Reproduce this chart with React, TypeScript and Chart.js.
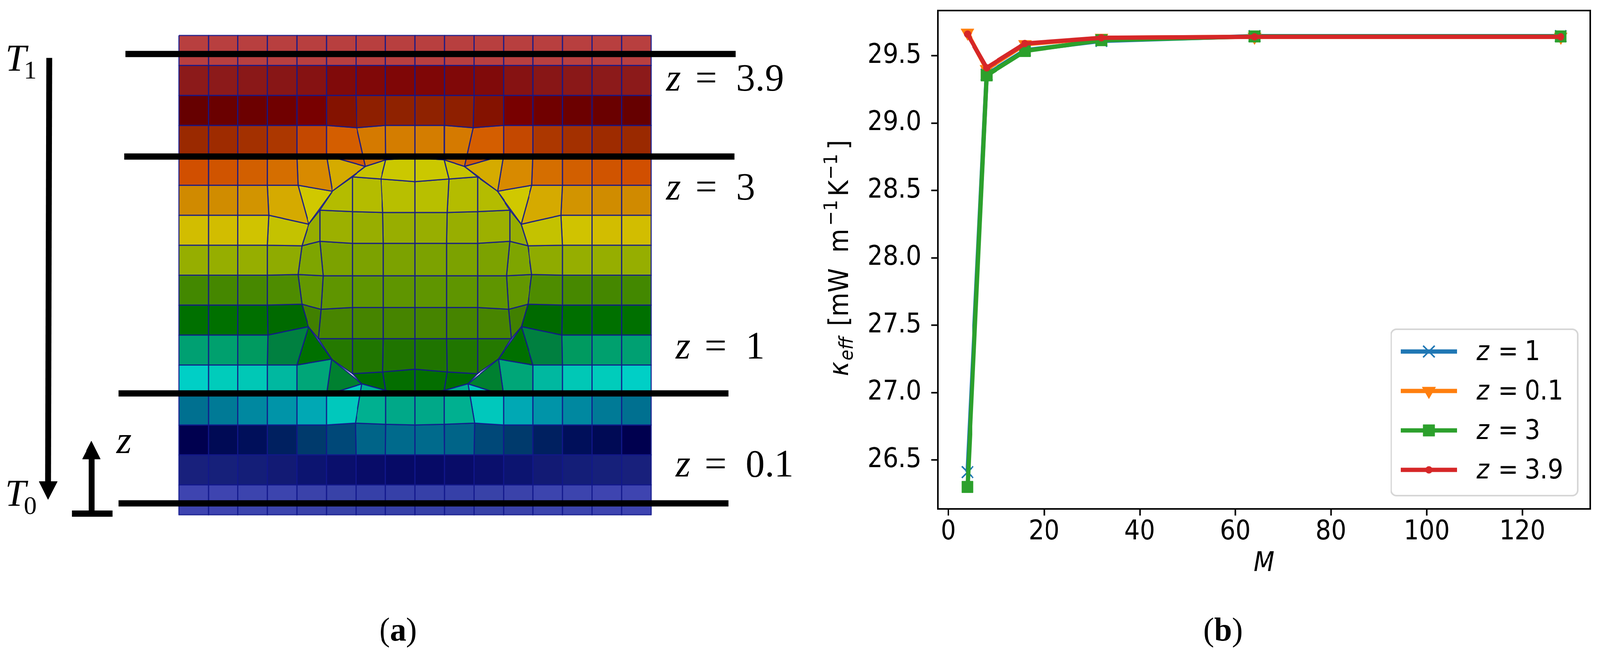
import { useEffect, useRef, useState } from 'react';
import { Chart, registerables } from 'chart.js';
import { drawPoint } from 'chart.js/helpers';

Chart.register(...registerables);

// (b) convergence curves
const mValues = [4, 8, 16, 32, 64, 128];
const kappaZ1 = [26.41, 29.36, 29.54, 29.61, 29.645, 29.645];
const kappaZ01 = [29.67, 29.4, 29.585, 29.632, 29.64, 29.64];
const kappaZ3 = [26.3, 29.354, 29.535, 29.615, 29.643, 29.643];
const kappaZ39 = [29.66, 29.41, 29.59, 29.633, 29.64, 29.64];
const seriesLabels = ['1', '0.1', '3', '3.9'];

// (a) mesh: the left half of the block, mirrored about u = 8. Units are cell widths.
const outerCells = [
  ['#b83f3f', '#b83f3f', '#b83f3f', '#b83f3f', '#b83f3f', '#b83f3f', '#b83f3f', '#b83f3f'],
  ['#8c1a1a', '#8c1a1a', '#8a1818', '#881616', '#861212', '#800a0a', '#800808', '#7f0606'],
  ['#660000', '#6a0000', '#6c0000', '#700000', '#780000', '#841200', '#8e1f00', '#8f2200'],
  ['#9a2900', '#9e2b00', '#a33000', '#ac3700', '#c44800', '#d45e00', '#d57a00', '#d47d00'],
  ['#d14f00', '#d05400', '#d25f00', '#d56e00', '#d88a00', '#d5ab00', null, null],
  ['#d08a00', '#d08c00', '#d29400', '#d5aa00', '#d0c800', null, null, null],
  ['#d2bd00', '#d2bd00', '#d0c300', '#c4c200', null, null, null, null],
  ['#96ae00', '#96ae00', '#96ae00', '#8fab00', null, null, null, null],
  ['#438800', '#458700', '#478800', '#4e8c00', null, null, null, null],
  ['#007000', '#007000', '#006f00', '#006a00', null, null, null, null],
  ['#00a072', '#00a06e', '#009a60', '#008040', '#007000', null, null, null],
  ['#00cfc6', '#00ccbb', '#00c8b6', '#00b8a0', '#00a678', '#008030', null, null],
  ['#007090', '#007a96', '#0088a0', '#0094a8', '#00a8b4', '#00c8bc', '#00b090', '#00a888'],
  ['#00004f', '#000a55', '#000f5a', '#002060', '#003a6c', '#004878', '#006488', '#006a8c'],
  ['#18207c', '#16207a', '#141e78', '#121a74', '#0c1470', '#0a0f6c', '#080c68', '#060a66'],
  ['#3e44b0', '#3e44b0', '#3c44ae', '#3c44ae', '#3a42aa', '#3842a8', '#3640a8', '#3640a8'],
];

// outer grid nodes pulled onto the sphere: [column, row from top, u, v]
const outerShifted = [
  [6, 3, 6.03, 12.92],
  [6, 4, 6.32, 11.63], [7, 4, 7.01, 11.85], [8, 4, 8, 11.92],
  [4, 5, 4.04, 11], [5, 5, 5.2, 10.8], [6, 5, 5.2, 10.8],
  [3, 6, 3.05, 10], [4, 6, 4.4, 9.7], [5, 6, 4.4, 9.7],
  [4, 7, 4.17, 8.98], [4, 8, 4.04, 8.02], [4, 9, 4.17, 7.03],
  [3, 10, 3.02, 6], [4, 10, 4.39, 6.28], [5, 10, 4.39, 6.28],
  [4, 11, 4, 5], [5, 11, 5.17, 5.2], [6, 11, 5.17, 5.2],
  [5, 12, 5, 4], [6, 12, 6.2, 4.37], [7, 12, 7.01, 4.15], [8, 12, 8, 4.02],
  [6, 13, 5.98, 3.06], [7, 13, 7.01, 3.02],
];

const innerCells = [
  [null, null, '#c8c400', '#cbc800'],
  [null, '#b4bc00', '#b4bc00', '#b8bf00'],
  ['#96ad00', '#9cb000', '#98ae00', '#98ae00'],
  ['#7ea500', '#7ca200', '#7ca200', '#7ca200'],
  ['#639700', '#5f9500', '#5f9500', '#5f9500'],
  ['#418000', '#488500', '#468400', '#468400'],
  [null, '#257900', '#207600', '#1f7400'],
  [null, null, '#006c00', '#046e00'],
];

const innerU = [
  [null, null, 6.32, 7.01, 8],
  [null, 5.2, 5.88, 6.85, 8],
  [4.4, 4.78, 5.88, 6.91, 8],
  [4.17, 4.78, 5.88, 6.93, 8],
  [4.04, 4.89, 5.88, 6.93, 8],
  [4.17, 4.82, 5.88, 6.93, 8],
  [4.39, 4.73, 5.88, 6.93, 8],
  [null, 5.17, 5.88, 6.91, 8],
  [null, null, 6.2, 7.01, 8],
];

const innerV = [
  [null, null, 11.63, 11.85, 11.92],
  [null, 10.8, 11.28, 11.21, 11.12],
  [9.7, 10.17, 10.12, 10.09, 10.09],
  [8.98, 9.13, 9.06, 9.06, 9.06],
  [8.02, 7.98, 7.98, 7.98, 7.98],
  [7.03, 6.86, 6.92, 6.92, 6.92],
  [6.28, 5.88, 5.88, 5.88, 5.88],
  [null, 5.2, 4.71, 4.77, 4.86],
  [null, null, 4.37, 4.15, 4.02],
];

// measurement planes and the two arrows, in the same cell units
const planeLevels = [15.38, 11.96, 4.05, 0.38];
const planeStarts = [-1.81, -1.85, -2.04, -2.04];
const planeEnds = [18.87, 18.83, 18.63, 18.63];

const PAGE_WIDTH = 4161;
const MESH_LINE = 'rgba(18,24,140,0.85)';
const SANS = '"DejaVu Sans Condensed", "DejaVu Sans"';
const SERIF = '"Liberation Serif"';

const outerNode = (c: number, t: number) => {
  if (c > 8) {
    const p = outerNode(16 - c, t);
    return { x: 16 - p.x, y: p.y };
  }
  const hit = outerShifted.find((n) => n[0] === c && n[1] === t);
  return hit ? { x: hit[2], y: hit[3] } : { x: c, y: 16 - t };
};

const innerNode = (i: number, j: number) => {
  if (i > 4) {
    const p = innerNode(8 - i, j);
    return { x: 16 - p.x, y: p.y };
  }
  return { x: innerU[j][i] as number, y: innerV[j][i] as number };
};

const polygon = (points: { x: number; y: number }[], color: string, line: string, width: number) => ({
  data: [...points, points[0]],
  showLine: true,
  fill: 'shape',
  backgroundColor: color,
  borderColor: line,
  borderWidth: width,
  borderJoinStyle: 'round',
  pointRadius: 0,
  order: 1,
});

const stroke = (points: { x: number; y: number }[], width: number) => ({
  data: points,
  showLine: true,
  fill: false,
  borderColor: '#000',
  borderWidth: width,
  borderCapStyle: 'butt',
  pointRadius: 0,
  order: 0,
});

const meshDatasets = () => {
  const sets: any[] = [];
  outerCells.forEach((row, t) => {
    for (let c = 0; c < 16; c++) {
      const color = row[c < 8 ? c : 15 - c];
      if (!color) continue;
      const corners = [outerNode(c, t), outerNode(c + 1, t), outerNode(c + 1, t + 1), outerNode(c, t + 1)];
      sets.push(polygon(corners, color, MESH_LINE, 3));
    }
  });
  innerCells.forEach((row, j) => {
    for (let i = 0; i < 8; i++) {
      const color = row[i < 4 ? i : 7 - i];
      if (!color) continue;
      const corners = [innerNode(i, j), innerNode(i + 1, j), innerNode(i + 1, j + 1), innerNode(i, j + 1)];
      sets.push(polygon(corners, color, MESH_LINE, 3));
    }
  });
  planeLevels.forEach((v, k) => {
    sets.push(stroke([{ x: planeStarts[k], y: v }, { x: planeEnds[k], y: v }], 16));
  });
  // T1 -> T0 arrow
  sets.push(stroke([{ x: -4.39, y: 15.25 }, { x: -4.43, y: 1.09 }], 15));
  sets.push({ ...polygon([{ x: -4.73, y: 1.11 }, { x: -4.12, y: 1.11 }, { x: -4.43, y: 0.51 }], '#000', '#000', 1), order: 0 });
  // z arrow with its foot
  sets.push(stroke([{ x: -2.95, y: 0.14 }, { x: -2.95, y: 1.86 }], 15));
  sets.push({ ...polygon([{ x: -3.27, y: 1.86 }, { x: -2.66, y: 1.86 }, { x: -2.96, y: 2.46 }], '#000', '#000', 1), order: 0 });
  sets.push(stroke([{ x: -3.62, y: 0.04 }, { x: -2.24, y: 0.04 }], 16));
  return sets;
};

const panelText = [
  { font: `italic 98px ${SERIF}`, text: 'T', u: -5.88, v: 14.82 },
  { font: `66px ${SERIF}`, text: '1', u: -5.25, v: 14.56 },
  { font: `italic 98px ${SERIF}`, text: 'T', u: -5.89, v: 0.3 },
  { font: `66px ${SERIF}`, text: '0', u: -5.25, v: 0.03 },
  { font: `italic 100px ${SERIF}`, text: 'z', u: -2.11, v: 2.06 },
];

const planeText = [
  { value: '3.9', u: 16.51, v: 14.16 },
  { value: '3', u: 16.51, v: 10.52 },
  { value: '1', u: 16.83, v: 5.22 },
  { value: '0.1', u: 16.83, v: 1.28 },
];

const drawCaption = (ctx: any, cx: number, baseline: number, letter: string) => {
  ctx.save();
  ctx.fillStyle = '#000';
  ctx.textBaseline = 'alphabetic';
  ctx.font = `84px ${SERIF}`;
  const paren = ctx.measureText('(').width;
  ctx.font = `bold 84px ${SERIF}`;
  const mid = ctx.measureText(letter).width;
  const left = cx - paren - mid / 2;
  ctx.font = `84px ${SERIF}`;
  ctx.fillText('(', left, baseline);
  ctx.fillText(')', left + paren + mid, baseline);
  ctx.font = `bold 84px ${SERIF}`;
  ctx.fillText(letter, left + paren, baseline);
  ctx.restore();
};

const annotationPlugin = {
  id: 'meshText',
  afterDatasetsDraw(chart: any) {
    const { ctx, scales } = chart;
    ctx.save();
    ctx.fillStyle = '#000';
    ctx.textBaseline = 'alphabetic';
    panelText.forEach((t) => {
      ctx.font = t.font;
      ctx.fillText(t.text, scales.x.getPixelForValue(t.u), scales.y.getPixelForValue(t.v));
    });
    planeText.forEach((t) => {
      const x = scales.x.getPixelForValue(t.u);
      const y = scales.y.getPixelForValue(t.v);
      ctx.font = `italic 100px ${SERIF}`;
      ctx.fillText('z', x, y);
      ctx.font = `100px ${SERIF}`;
      ctx.fillText('=', x + 76, y);
      ctx.fillText(t.value, x + 182, y);
    });
    ctx.restore();
    drawCaption(ctx, scales.x.getPixelForValue(7.43), scales.y.getPixelForValue(-4.2), 'a');
  },
};

// top and right spines, mathtext y label, hand-built legend and the (b) caption
const framePlugin = {
  id: 'frame',
  afterDatasetsDraw(chart: any) {
    const { ctx, chartArea: a } = chart;
    ctx.save();
    ctx.strokeStyle = '#000';
    ctx.lineWidth = 4;
    ctx.strokeRect(a.left, a.top, a.right - a.left, a.bottom - a.top);
    ctx.restore();

    // legend
    const boxLeft = a.right - 518;
    const boxRight = a.right - 33;
    const boxTop = a.bottom - 460;
    const boxBottom = a.bottom - 34;
    ctx.save();
    ctx.beginPath();
    ctx.roundRect(boxLeft, boxTop, boxRight - boxLeft, boxBottom - boxTop, 14);
    ctx.fillStyle = 'rgba(255,255,255,0.8)';
    ctx.fill();
    ctx.strokeStyle = '#d6d6d6';
    ctx.lineWidth = 4;
    ctx.stroke();
    const rowGap = 101;
    chart.data.datasets.forEach((ds: any, k: number) => {
      const y = boxTop + 57 + k * rowGap;
      ctx.strokeStyle = ds.borderColor;
      ctx.lineWidth = ds.borderWidth;
      ctx.beginPath();
      ctx.moveTo(boxLeft + 25, y);
      ctx.lineTo(boxLeft + 171, y);
      ctx.stroke();
      ctx.fillStyle = ds.pointBackgroundColor;
      ctx.strokeStyle = ds.pointBorderColor;
      ctx.lineWidth = ds.pointBorderWidth;
      drawPoint(ctx, { pointStyle: ds.pointStyle, rotation: ds.pointRotation || 0, radius: ds.pointRadius, borderWidth: ds.pointBorderWidth }, boxLeft + 98, y);
      ctx.fillStyle = '#000';
      ctx.textBaseline = 'alphabetic';
      ctx.font = `italic 70px ${SANS}`;
      ctx.fillText('z', boxLeft + 222, y + 22);
      ctx.font = `70px ${SANS}`;
      ctx.fillText('=', boxLeft + 278, y + 22);
      ctx.fillText(ds.label, boxLeft + 347, y + 22);
    });
    ctx.restore();

    // y label, read bottom to top
    const baseX = a.left - 234;
    const bottomY = (a.top + a.bottom) / 2 + 298;
    const runs = [
      { font: `italic 70px ${SANS}`, text: 'κ', d: 0, lift: 0 },
      { font: `italic 50px ${SANS}`, text: 'eff', d: 40, lift: -13 },
      { font: `70px ${SANS}`, text: '[mW', d: 128, lift: 0 },
      { font: `70px ${SANS}`, text: 'm', d: 316, lift: 0 },
      { font: `50px ${SANS}`, text: '−1', d: 385, lift: 28 },
      { font: `70px ${SANS}`, text: 'K', d: 460, lift: 0 },
      { font: `50px ${SANS}`, text: '−1', d: 503, lift: 28 },
      { font: `70px ${SANS}`, text: ']', d: 580, lift: 0 },
    ];
    ctx.save();
    ctx.translate(baseX, bottomY);
    ctx.rotate(-Math.PI / 2);
    ctx.fillStyle = '#000';
    ctx.textBaseline = 'alphabetic';
    runs.forEach((r) => {
      ctx.font = r.font;
      ctx.fillText(r.text, r.d, -r.lift);
    });
    ctx.restore();

    drawCaption(ctx, (a.left + a.right) / 2 - 107, 1640, 'b');
  },
};

export default function App() {
  const meshRef = useRef<HTMLCanvasElement>(null);
  const plotRef = useRef<HTMLCanvasElement>(null);
  // the browser window can come out narrower than the figure, so squeeze to fit it
  const [fit] = useState(() => Math.min(1, window.innerWidth / PAGE_WIDTH));

  useEffect(() => {
    const meshChart = new Chart(meshRef.current as HTMLCanvasElement, {
      type: 'scatter',
      data: { datasets: meshDatasets() },
      options: {
        animation: false,
        responsive: false,
        devicePixelRatio: 1,
        layout: { padding: 0 },
        plugins: { legend: { display: false }, tooltip: { enabled: false } },
        scales: {
          x: { display: false, min: -6.059, max: 21.954 },
          y: { display: false, min: -4.681, max: 17.184 },
        },
      },
      plugins: [annotationPlugin],
    } as any);

    const series = [
      { values: kappaZ1, color: '#1f77b4', style: 'crossRot', radius: 21, rotation: 0, border: 4, order: 3 },
      { values: kappaZ01, color: '#ff7f0e', style: 'triangle', radius: 20, rotation: 180, border: 1, order: 2 },
      { values: kappaZ3, color: '#2ca02c', style: 'rect', radius: 21, rotation: 0, border: 1, order: 1 },
      { values: kappaZ39, color: '#d62728', style: 'circle', radius: 9, rotation: 0, border: 1, order: 0 },
    ];

    const plotChart = new Chart(plotRef.current as HTMLCanvasElement, {
      type: 'line',
      data: {
        datasets: series.map((s, k) => ({
          label: seriesLabels[k],
          data: mValues.map((m, i) => ({ x: m, y: s.values[i] })),
          borderColor: s.color,
          backgroundColor: s.color,
          borderWidth: 11,
          borderJoinStyle: 'round',
          tension: 0,
          fill: false,
          pointStyle: s.style,
          pointRadius: s.radius,
          pointRotation: s.rotation,
          pointBackgroundColor: s.color,
          pointBorderColor: s.color,
          pointBorderWidth: s.border,
          order: s.order,
        })),
      },
      options: {
        animation: false,
        responsive: false,
        devicePixelRatio: 1,
        layout: { padding: { left: 0, right: 21, top: 27, bottom: 191 } },
        plugins: { legend: { display: false }, tooltip: { enabled: false } },
        scales: {
          x: {
            type: 'linear',
            min: -2.2,
            max: 134.2,
            afterFit: (scale: any) => {
              // plot box is pinned to the reference, so tick labels must not push it in
              scale.height = 183;
              scale.paddingLeft = 0;
              scale.paddingRight = 0;
            },
            border: { display: true, color: '#000', width: 4 },
            grid: { drawOnChartArea: false, drawTicks: true, tickLength: 17, tickWidth: 4, tickColor: '#000' },
            ticks: {
              stepSize: 20,
              includeBounds: false,
              autoSkip: false,
              maxRotation: 0,
              padding: 1,
              color: '#000',
              font: { family: SANS, size: 70 },
              callback: (v: any) => String(v),
            },
            title: { display: true, text: 'M', color: '#000', padding: 0, font: { family: SANS, size: 70, style: 'italic' } },
          },
          y: {
            min: 26.137,
            max: 29.835,
            afterFit: (scale: any) => {
              scale.width = 309;
              scale.paddingTop = 0;
              scale.paddingBottom = 0;
            },
            border: { display: true, color: '#000', width: 4 },
            grid: { drawOnChartArea: false, drawTicks: true, tickLength: 17, tickWidth: 4, tickColor: '#000' },
            ticks: {
              stepSize: 0.5,
              includeBounds: false,
              autoSkip: false,
              padding: 26,
              color: '#000',
              font: { family: SANS, size: 70 },
              callback: (v: any) => Number(v).toFixed(1),
            },
          },
        },
      },
      plugins: [framePlugin],
    } as any);

    return () => {
      meshChart.destroy();
      plotChart.destroy();
    };
  }, []);

  return (
    <div
      style={{
        position: 'absolute',
        left: 0,
        top: 0,
        width: PAGE_WIDTH,
        height: 1677,
        background: '#fff',
        transform: `scaleX(${fit})`,
        transformOrigin: '0 0',
      }}
    >
      <canvas ref={meshRef} width={2150} height={1677} style={{ position: 'absolute', left: 0, top: 0 }} />
      <canvas ref={plotRef} width={2031} height={1677} style={{ position: 'absolute', left: 2130, top: 0 }} />
    </div>
  );
}
